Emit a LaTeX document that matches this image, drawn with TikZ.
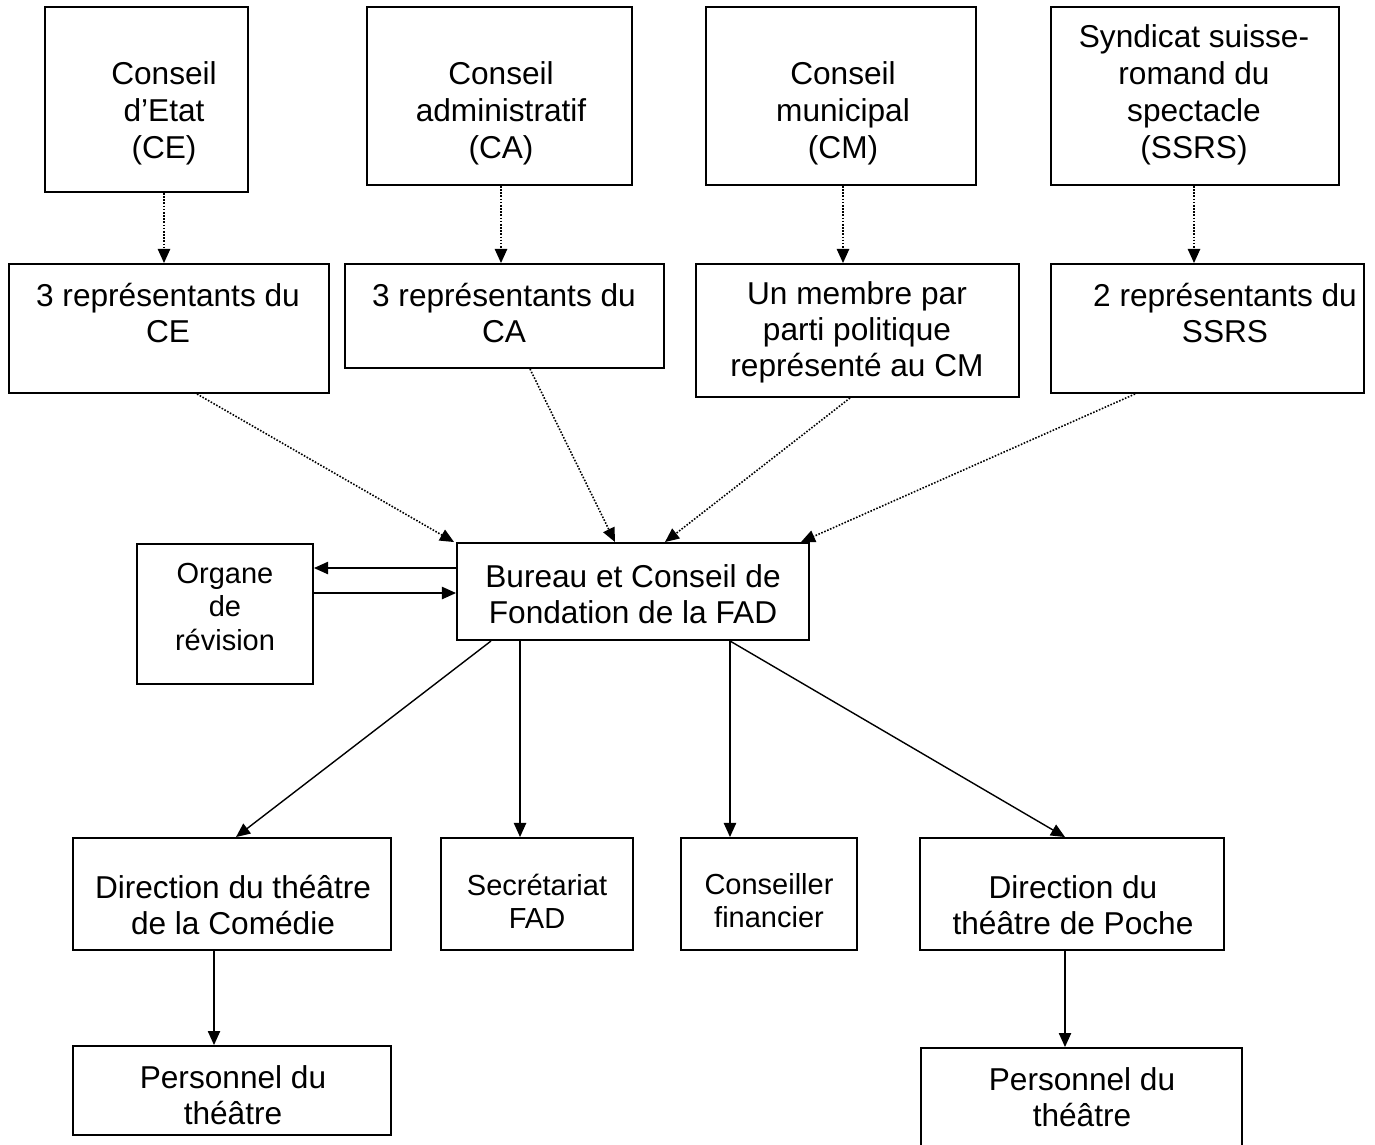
\documentclass[tikz,border=0pt]{standalone}
\usepackage{fontspec}
\setmainfont{Liberation Sans}
\usetikzlibrary{fit,arrows.meta}
\tikzset{
  orgbox/.style={draw, line width=1.1pt, inner sep=0pt},
  orgtext/.style={align=center, inner sep=0pt, font=\fontsize{18}{20.5}\selectfont},
  toptext/.style={orgtext, font=\fontsize{18}{21}\selectfont},
  smalltext/.style={orgtext, font=\fontsize{16.5}{18.8}\selectfont},
  link/.style={-{Triangle[length=8pt,width=7pt]}, line width=0.8pt},
  dotlink/.style={link, line width=0.9pt, dash pattern=on 0.9pt off 0.9pt}
}
\begin{document}
\begin{tikzpicture}[x=0.02cm, y=-0.02cm]
\useasboundingbox (0,0) rectangle (1375,1144);
% autorites
\node[orgbox, fit={(45,7) (248,192)}] (ce) {};
\node[toptext] (ce-t) at (164,113) {Conseil\\d’Etat\\(CE)};
\node[orgbox, fit={(367,7) (632,185)}] (ca) {};
\node[toptext] (ca-t) at (501,113) {Conseil\\administratif\\(CA)};
\node[orgbox, fit={(706,7) (976,185)}] (cm) {};
\node[toptext] (cm-t) at (843,113) {Conseil\\municipal\\(CM)};
\node[orgbox, fit={(1051,7) (1339,185)}] (ss) {};
\node[toptext] (ss-t) at (1194,95) {Syndicat suisse-\\romand du\\spectacle\\(SSRS)};
% representants
\node[orgbox, fit={(9,264) (329,393)}] (rce) {};
\node[orgtext] at (168,313) {3 représentants du\\CE};
\node[orgbox, fit={(345,264) (664,368)}] (rca) {};
\node[orgtext] at (504,313) {3 représentants du\\CA};
\node[orgbox, fit={(696,264) (1019,397)}] (rcm) {};
\node[orgtext] at (857,332) {Un membre par\\parti politique\\représenté au CM};
\node[orgbox, fit={(1051,264) (1364,393)}] (rss) {};
\node[orgtext] at (1225,313) {2 représentants du\\SSRS};
% fondation
\node[orgbox, fit={(457,543) (809,640)}] (bur) {};
\node[orgtext] at (633,594) {Bureau et Conseil de\\Fondation de la FAD};
\node[orgbox, fit={(137,544) (313,684)}] (org) {};
\node[smalltext] at (225,607) {Organe\\de\\révision};
% services
\node[orgbox, fit={(73,838) (391,950)}] (dcom) {};
\node[orgtext] at (233,905) {Direction du théâtre\\de la Comédie};
\node[orgbox, fit={(441,838) (633,950)}] (sec) {};
\node[smalltext] at (537,901) {Secrétariat\\FAD};
\node[orgbox, fit={(681,838) (857,950)}] (cf) {};
\node[smalltext] at (769,901) {Conseiller\\financier};
\node[orgbox, fit={(920,838) (1224,950)}] (dpo) {};
\node[orgtext] at (1073,905) {Direction du\\théâtre de Poche};
\node[orgbox, fit={(73,1046) (391,1135)}] (pcom) {};
\node[orgtext] at (233,1095) {Personnel du\\théâtre};
\node[orgbox, fit={(921,1048) (1242,1148)}] (ppo) {};
\node[orgtext] at (1082,1097) {Personnel du\\théâtre};

\draw[dotlink] (ce-t |- ce.south) -- (ce-t |- rce.north);
\draw[dotlink] (ca-t |- ca.south) -- (ca-t |- rca.north);
\draw[dotlink] (cm-t |- cm.south) -- (cm-t |- rcm.north);
\draw[dotlink] (ss-t |- ss.south) -- (ss-t |- rss.north);

\draw[dotlink] ([xshift=.56cm]rce.south) -- ([xshift=-.04cm]bur.north west);
\draw[dotlink] ([xshift=.51cm]rca.south) -- ([xshift=-.36cm]bur.north);
\draw[dotlink] ([xshift=-.15cm]rcm.south) -- ([xshift=.64cm]bur.north);
\draw[dotlink] ([xshift=-1.45cm]rss.south) -- ([xshift=-.18cm]bur.north east);

\draw[link] ([yshift=.47cm]bur.west) coordinate (b1) -- (b1 -| org.east);
\draw[link] ([yshift=.42cm]org.east) coordinate (o1) -- (o1 -| bur.west);

\draw[link] ([xshift=-2.84cm]bur.south) -- ([xshift=.08cm]dcom.north);
\draw[link] ([xshift=-2.26cm]bur.south) coordinate (b2) -- (b2 |- sec.north);
\draw[link] ([xshift=1.94cm]bur.south) coordinate (b3) -- (b3 |- cf.north);
\draw[link] (b3) -- ([xshift=-.14cm]dpo.north);
\draw[link] ([xshift=-.36cm]dcom.south) coordinate (d1) -- (d1 |- pcom.north);
\draw[link] ([xshift=-.14cm]dpo.south) coordinate (d2) -- (d2 |- ppo.north);
\end{tikzpicture}
\end{document}
